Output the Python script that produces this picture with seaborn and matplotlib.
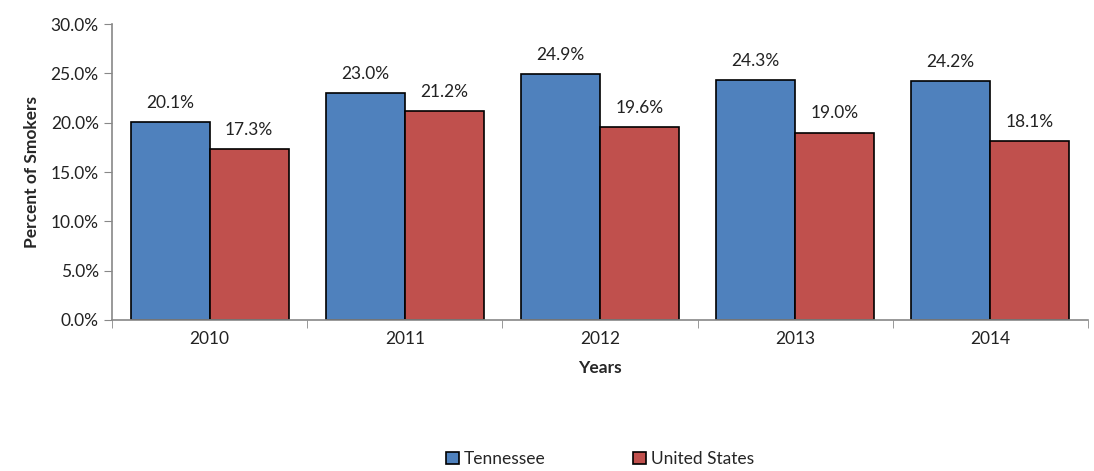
import matplotlib
matplotlib.use("Agg")
import matplotlib.pyplot as plt
import seaborn as sns
import pandas as pd
import numpy as np
from matplotlib.ticker import PercentFormatter, FixedLocator

years = ["2010", "2011", "2012", "2013", "2014"]
tennessee = [20.1, 23.0, 24.9, 24.3, 24.2]
united_states = [17.3, 21.2, 19.6, 19.0, 18.1]
series_names = ["Tennessee", "United States"]
colors = ["#4F81BD", "#C0504D"]

df = pd.DataFrame({
    "Year": years * 2,
    "Value": tennessee + united_states,
    "Series": [series_names[0]] * len(years) + [series_names[1]] * len(years),
})

sns.set_style("white")
plt.rcParams["font.family"] = ["Lato", "DejaVu Sans"]
FS = 12.5

fig = plt.figure(figsize=(10.94, 4.71), dpi=100)
ax = fig.add_axes([0.1024, 0.3206, 0.892, 0.6284])

sns.barplot(data=df, x="Year", y="Value", hue="Series", palette=colors,
            width=0.81, edgecolor="black", linewidth=1.2, saturation=1,
            ax=ax, legend=True)

for cont in ax.containers:
    ax.bar_label(cont, labels=[f"{v:.1f}%" for v in cont.datavalues],
                 padding=8, fontsize=FS, color="#222222")

ax.set_ylim(0, 30)
ax.set_yticks(np.arange(0, 30.1, 5))
ax.yaxis.set_major_formatter(PercentFormatter(decimals=1))
ax.set_xlim(-0.5, len(years) - 0.5)

ax.tick_params(axis="x", which="major", length=0, labelsize=FS, pad=8, colors="#222222")
ax.xaxis.set_minor_locator(FixedLocator(np.arange(-0.5, len(years), 1.0)))
ax.tick_params(axis="x", which="minor", length=6, color="#888888", direction="out", bottom=True)
ax.tick_params(axis="y", length=6, color="#888888", direction="out", left=True, labelsize=FS, colors="#222222")

for s in ["top", "right"]:
    ax.spines[s].set_visible(False)
for s in ["left", "bottom"]:
    ax.spines[s].set_color("#888888")
    ax.spines[s].set_linewidth(1.2)

ax.set_xlabel("Years", fontsize=FS, fontweight="bold", labelpad=9)
ax.set_ylabel("Percent of Smokers", fontsize=FS, fontweight="bold", labelpad=8)

leg = ax.legend(loc="lower center", bbox_to_anchor=(0.5, -0.55), ncol=2,
                frameon=False, fontsize=FS, handlelength=0.75, handleheight=0.75,
                columnspacing=5.0, handletextpad=0.3)

fig.savefig("out.png", dpi=100)
